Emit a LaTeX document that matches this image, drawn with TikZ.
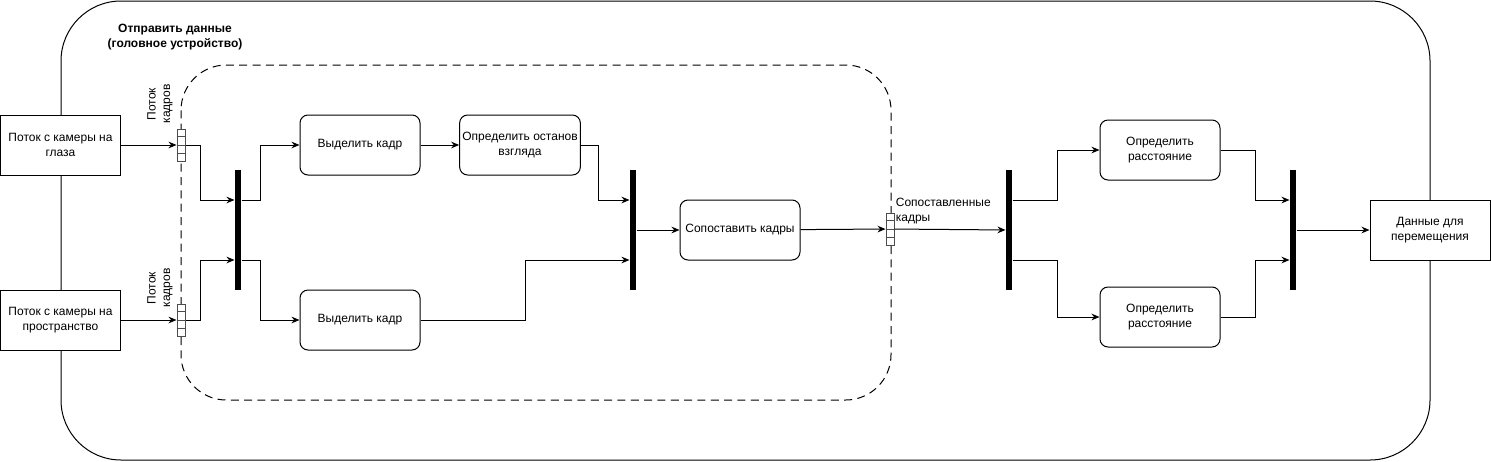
\documentclass[tikz,border=0pt]{standalone}
\usepackage{fontspec}
\setmainfont{Liberation Sans}
\usetikzlibrary{arrows.meta, calc}

\begin{document}
\begin{tikzpicture}[
  x=0.75pt, y=-0.75pt,
  line width=0.75pt,
  box_plain/.style={rectangle, draw=black, fill=white, minimum width=90pt, minimum height=45pt, text centered, align=center, font=\fontsize{9}{11}\selectfont, inner sep=2pt},
  box_round/.style={box_plain, rounded corners=6pt},
  bar_black/.style={rectangle, fill=black, minimum width=4.5pt, minimum height=90pt, inner sep=0pt},
  pin_box/.style={rectangle, draw=black!70, fill=white, minimum width=6pt, minimum height=24pt, inner sep=0pt},
  lbl/.style={font=\fontsize{9}{11}\selectfont, align=center, inner sep=1pt},
  arr/.style={-{Stealth[length=6pt, width=5pt]}, color=black}
]
\useasboundingbox (0,0) rectangle (1491,461);

% Frames
\draw[rounded corners=45pt] (61,1) rectangle (1430,460);
\draw[dashed, dash pattern=on 6pt off 4pt, rounded corners=34pt] (181,65) rectangle (891,400);
\node[lbl, font=\fontsize{9}{11}\selectfont\bfseries] (title) at (175,37) {Отправить данные\\(головное устройство)};

% Cameras
\node[box_plain] (eyecam) at (60.5,145) {Поток с камеры на\\глаза};
\node[box_plain] (spacecam) at (60.5,320) {Поток с камеры на\\пространство};

% Pins
\node[pin_box] (pin_eye) at (181,145) {};
\node[pin_box] (pin_space) at (181,320) {};
\node[pin_box] (pin_match) at (890,229) {};
\foreach \p in {pin_eye, pin_space, pin_match}
  \foreach \k in {1,2,3}
    \draw[black!70] ($(\p.north west)!\k/4!(\p.south west)$) -- ($(\p.north east)!\k/4!(\p.south east)$);
\node[lbl, rotate=90] (lbl_eye) at (160,104) {Поток\\кадров};
\node[lbl, rotate=90] (lbl_space) at (160,288) {Поток\\кадров};
\node[lbl, anchor=west, align=left] (lbl_match) at (894,211) {Сопоставленные\\кадры};

% Bars
\node[bar_black] (fork1) at (238,230) {};
\node[bar_black] (join1) at (633,230) {};
\node[bar_black] (fork2) at (1009,230) {};
\node[bar_black] (join2) at (1293,230) {};

% Processing
\node[box_round] (selA) at (360,145) {Выделить кадр};
\node[box_round] (stopg) at (520,145) {Определить останов\\взгляда};
\node[box_round] (selB) at (360,320) {Выделить кадр};
\node[box_round] (match) at (740,230) {Сопоставить кадры};
\node[box_round] (distA) at (1160,150) {Определить\\расстояние};
\node[box_round] (distB) at (1160,317) {Определить\\расстояние};
\node[box_plain] (output) at (1430,230) {Данные для\\перемещения};

% Edges - Input
\draw[arr] (eyecam) -- (pin_eye);
\draw[arr] (spacecam) -- (pin_space);
\draw[arr] (pin_eye.east) -- ++(15,0) |- ([yshift=22.5pt]fork1.west);
\draw[arr] (pin_space.east) -- ++(15,0) |- ([yshift=-22.5pt]fork1.west);

% Edges - Frames
\draw[arr] ([yshift=22.5pt]fork1.east) -- ++(19,0) |- (selA.west);
\draw[arr] ([yshift=-22.5pt]fork1.east) -- ++(19,0) |- (selB.west);
\draw[arr] (selA) -- (stopg);
\draw[arr] (stopg.east) -- ++(18,0) |- ([yshift=22.5pt]join1.west);
\draw[arr] (selB.east) -- ++(105,0) |- ([yshift=-22.5pt]join1.west);
\draw[arr] (join1) -- (match);
\draw[arr] (match) -- (pin_match);
\draw[arr] (pin_match) -- (fork2);

% Edges - Distance
\draw[arr] ([yshift=22.5pt]fork2.east) -- ++(45,0) |- (distA.west);
\draw[arr] ([yshift=-22.5pt]fork2.east) -- ++(45,0) |- (distB.west);
\draw[arr] (distA.east) -- ++(35,0) |- ([yshift=22.5pt]join2.west);
\draw[arr] (distB.east) -- ++(35,0) |- ([yshift=-22.5pt]join2.west);
\draw[arr] (join2) -- (output);

\end{tikzpicture}
\end{document}
